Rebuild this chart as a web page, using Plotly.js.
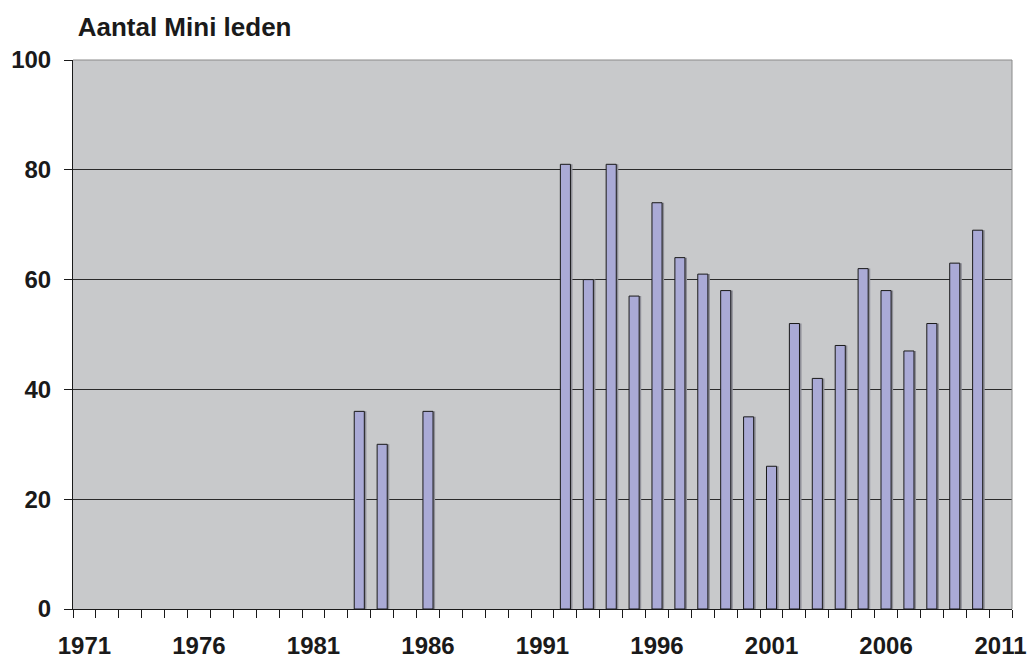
<!DOCTYPE html>
<html>
<head>
<meta charset="utf-8">
<script src="https://cdn.plot.ly/plotly-3.0.1.min.js"></script>
<style>
html,body{margin:0;padding:0;background:#fff;}
#chart{width:1030px;height:660px;}
</style>
</head>
<body>
<div id="chart"></div>
<script>
const chartTitle = "Aantal Mini leden";
const years = [1983, 1984, 1986, 1992, 1993, 1994, 1995, 1996, 1997, 1998, 1999, 2000, 2001, 2002, 2003, 2004, 2005, 2006, 2007, 2008, 2009, 2010];
const members = [36, 30, 36, 81, 60, 81, 57, 74, 64, 61, 58, 35, 26, 52, 42, 48, 62, 58, 47, 52, 63, 69];
const xTickYears = [1971, 1976, 1981, 1986, 1991, 1996, 2001, 2006, 2011];
const yTicks = [0, 20, 40, 60, 80, 100];

const fontFam = "Liberation Sans, Arial, sans-serif";

const shadow = {
  type: "bar",
  x: years,
  y: members,
  width: 0.44,
  offset: -0.22 + 0.09,
  marker: {color: "#8f8f98", line: {width: 0}},
  hoverinfo: "skip"
};

const trace = {
  type: "bar",
  x: years,
  y: members,
  width: 0.44,
  marker: {color: "#aaaad6", line: {color: "#1a1a1a", width: 1}},
  hoverinfo: "x+y"
};

const layout = {
  width: 1030,
  height: 660,
  margin: {l: 73, r: 18, t: 60, b: 51},
  paper_bgcolor: "#ffffff",
  plot_bgcolor: "#c8c9cb",
  showlegend: false,
  barmode: "overlay",
  title: {
    text: chartTitle,
    font: {family: fontFam, size: 26, color: "#1a1a1a", weight: 700},
    xref: "paper", x: 0.005, xanchor: "left",
    yref: "container", y: 1 - 27/660, yanchor: "middle"
  },
  xaxis: {
    range: [1970.5, 2011.5],
    tickmode: "array",
    tickvals: xTickYears,
    ticktext: xTickYears.map(String),
    ticks: "",
    showgrid: false,
    zeroline: false,
    showline: true,
    linecolor: "#1a1a1a",
    linewidth: 1,
    tickfont: {family: fontFam, size: 24, color: "#1a1a1a", weight: 700},
    ticklabelstandoff: 15,
    minor: {tick0: 1970.5, dtick: 1, ticks: "outside", ticklen: 8, tickcolor: "#1a1a1a", tickwidth: 1, showgrid: false}
  },
  yaxis: {
    range: [0, 100],
    tickmode: "array",
    tickvals: yTicks,
    ticks: "outside",
    ticklen: 8,
    tickcolor: "#1a1a1a",
    showgrid: true,
    gridcolor: "#2a2a2a",
    gridwidth: 1,
    zeroline: false,
    showline: true,
    linecolor: "#1a1a1a",
    linewidth: 1,
    tickfont: {family: fontFam, size: 24, color: "#1a1a1a", weight: 700},
    ticklabelstandoff: 8
  },
  shapes: [
    {type: "line", xref: "paper", yref: "paper", x0: 0, x1: 1, y0: 1, y1: 1, line: {color: "#8a8a8a", width: 1}},
    {type: "line", xref: "paper", yref: "paper", x0: 1, x1: 1, y0: 0, y1: 1, line: {color: "#8a8a8a", width: 1}}
  ]
};

Plotly.newPlot("chart", [shadow, trace], layout, {displayModeBar: false, responsive: false});
</script>
</body>
</html>
